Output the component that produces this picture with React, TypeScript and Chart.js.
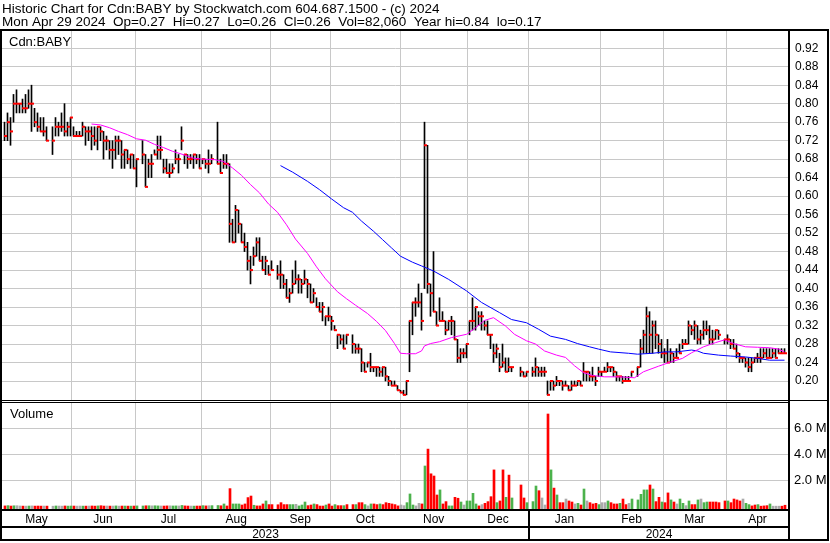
import React, { useEffect, useRef } from "react";
import { Chart, registerables } from "chart.js";
Chart.register(...registerables);

const FONT = "'Liberation Sans', Arial, Helvetica, sans-serif";

const TITLE_1 = "Historic Chart for Cdn:BABY by Stockwatch.com 604.687.1500 - (c) 2024";
const TITLE_2 = "Mon Apr 29 2024  Op=0.27  Hi=0.27  Lo=0.26  Cl=0.26  Vol=82,060  Year hi=0.84  lo=0.17";
const SYMBOL = "Cdn:BABY";
const VOLUME_LABEL = "Volume";

// x axis = weekday slots from Mon May 1 2023 (slot 0) to Mon Apr 29 2024 (slot 260)
const monthLabels = ["May", "Jun", "Jul", "Aug", "Sep", "Oct", "Nov", "Dec", "Jan", "Feb", "Mar", "Apr"];
const monthTicks = [22.17, 43.5, 65.83, 88.6, 108.5, 131.93, 154.17, 174.83, 198.5, 219.5, 240.5];
const yearLabels = ["2023", "2024"];
const priceTicks = [0.2, 0.24, 0.28, 0.32, 0.36, 0.4, 0.44, 0.48, 0.52, 0.56, 0.6, 0.64, 0.68, 0.72, 0.76, 0.8, 0.84, 0.88, 0.92];
const volumeTicks = [2e6, 4e6, 6e6];

const highs: (number | null)[] = [
  // May
  0.76, 0.78, 0.77, 0.82, 0.83, 0.80, 0.81, 0.82, 0.83, 0.84, 0.79, 0.78, 0.77, 0.77, 0.75, null, 0.75, 0.77, 0.76, 0.78, 0.80, 0.76, 0.77,
  // Jun
  0.75, 0.74, 0.74, 0.76, 0.75, 0.75, 0.75, 0.75, 0.75, 0.75, 0.74, 0.73, 0.72, 0.72, 0.73, 0.73, 0.72, 0.70, 0.70, 0.69, 0.69, 0.68,
  // Jul
  null, 0.72, 0.69, 0.68, 0.69, 0.70, 0.73, 0.73, 0.68, 0.68, 0.67, 0.67, 0.70, 0.69, 0.75, 0.69, 0.69, 0.69, 0.69, 0.69, 0.69,
  // Aug
  0.68, 0.68, 0.70, 0.69, null, 0.76, 0.68, 0.69, 0.69, 0.67, 0.55, 0.58, 0.57, 0.54, 0.52, 0.50, 0.47, 0.49, 0.51, 0.51, 0.47, 0.47, 0.45,
  // Sep
  0.46, null, 0.45, 0.46, 0.43, 0.42, 0.40, 0.44, 0.46, 0.43, 0.42, 0.44, 0.42, 0.41, 0.40, 0.38, 0.37, 0.37, 0.34, 0.36, 0.34,
  // Oct
  0.32, 0.30, 0.30, 0.30, 0.30, null, 0.30, 0.28, 0.28, 0.27, 0.24, 0.24, 0.26, 0.23, 0.23, 0.23, 0.23, 0.23, 0.21, 0.20, 0.20, 0.19,
  // Nov
  0.18, 0.18, 0.20, 0.33, 0.37, 0.38, 0.41, 0.39, 0.76, 0.71, 0.41, 0.48, 0.35, 0.38, 0.35, 0.33, 0.33, 0.34, 0.33, 0.29, 0.27, 0.27,
  // Dec
  0.28, 0.33, 0.38, 0.36, 0.35, 0.35, 0.33, 0.33, 0.30, 0.28, 0.28, 0.26, 0.28, 0.25, 0.25, 0.23, null, null, 0.23, 0.22, 0.22,
  // Jan
  null, 0.23, 0.25, 0.23, 0.23, 0.23, 0.20, 0.20, 0.20, 0.21, 0.20, 0.20, 0.20, 0.19, 0.20, 0.20, 0.20, 0.20, 0.24, 0.22, 0.22, 0.23, 0.21,
  // Feb
  0.23, 0.22, 0.23, 0.24, 0.23, 0.23, 0.22, 0.21, 0.21, 0.21, 0.21, 0.22, null, 0.23, 0.29, 0.31, 0.36, 0.35, 0.33, 0.33, 0.30,
  // Mar
  0.29, 0.27, 0.29, 0.27, 0.26, 0.27, 0.28, 0.29, 0.29, 0.33, 0.32, 0.33, 0.32, 0.31, 0.33, 0.33, 0.32, 0.31, 0.31, 0.31, null,
  // Apr
  0.29, 0.30, 0.29, 0.29, 0.28, 0.26, 0.25, 0.25, 0.25, 0.25, 0.25, 0.26, 0.27, 0.27, 0.27, 0.27, 0.27, 0.27, 0.27, 0.27, 0.27,
];

const lows: (number | null)[] = [
  0.72, 0.72, 0.71, 0.76, 0.78, 0.78, 0.78, 0.78, 0.79, 0.74, 0.75, 0.74, 0.74, 0.73, 0.72, null, 0.69, 0.73, 0.73, 0.74, 0.73, 0.73, 0.73,
  0.73, 0.73, 0.73, 0.73, 0.71, 0.72, 0.70, 0.71, 0.70, 0.72, 0.68, 0.70, 0.68, 0.66, 0.68, 0.69, 0.66, 0.66, 0.67, 0.66, 0.66, 0.62,
  null, 0.67, 0.62, 0.64, 0.64, 0.69, 0.68, 0.68, 0.65, 0.65, 0.64, 0.65, 0.67, 0.65, 0.70, 0.67, 0.66, 0.67, 0.66, 0.67, 0.66,
  0.67, 0.66, 0.65, 0.67, null, 0.67, 0.65, 0.66, 0.66, 0.50, 0.50, 0.50, 0.52, 0.50, 0.48, 0.44, 0.41, 0.45, 0.47, 0.46, 0.44, 0.43, 0.43,
  0.44, null, 0.42, 0.40, 0.40, 0.38, 0.37, 0.39, 0.41, 0.39, 0.39, 0.41, 0.38, 0.37, 0.37, 0.36, 0.35, 0.33, 0.32, 0.33, 0.31,
  0.31, 0.27, 0.28, 0.27, 0.28, null, 0.26, 0.26, 0.26, 0.22, 0.22, 0.23, 0.22, 0.22, 0.21, 0.21, 0.21, 0.20, 0.19, 0.19, 0.19, 0.18,
  0.175, 0.17, 0.17, 0.22, 0.30, 0.34, 0.36, 0.31, 0.40, 0.39, 0.34, 0.35, 0.32, 0.33, 0.33, 0.30, 0.31, 0.30, 0.29, 0.24, 0.24, 0.25,
  0.25, 0.30, 0.31, 0.31, 0.32, 0.31, 0.31, 0.30, 0.27, 0.24, 0.25, 0.22, 0.23, 0.22, 0.22, 0.22, null, null, 0.21, 0.21, 0.21,
  null, 0.21, 0.21, 0.21, 0.21, 0.21, 0.17, 0.18, 0.18, 0.19, 0.19, 0.18, 0.19, 0.18, 0.18, 0.19, 0.19, 0.19, 0.20, 0.20, 0.20, 0.20, 0.19,
  0.21, 0.21, 0.22, 0.22, 0.22, 0.21, 0.20, 0.20, 0.195, 0.20, 0.20, 0.21, null, 0.21, 0.23, 0.26, 0.26, 0.26, 0.26, 0.27, 0.26,
  0.25, 0.24, 0.24, 0.24, 0.24, 0.25, 0.26, 0.27, 0.28, 0.28, 0.30, 0.29, 0.28, 0.28, 0.29, 0.30, 0.28, 0.28, 0.29, 0.29, null,
  0.28, 0.28, 0.27, 0.27, 0.25, 0.24, 0.24, 0.23, 0.22, 0.22, 0.24, 0.24, 0.24, 0.25, 0.25, 0.25, 0.25, 0.25, 0.26, 0.26, 0.26,
];

const closes: (number | null)[] = [
  0.73, 0.76, 0.74, 0.80, 0.80, 0.80, 0.79, 0.79, 0.80, 0.80, 0.76, 0.75, 0.74, 0.74, 0.72, null, 0.72, 0.75, 0.75, 0.75, 0.74, 0.75, 0.77,
  0.73, 0.73, 0.73, 0.75, 0.74, 0.74, 0.73, 0.72, 0.75, 0.74, 0.72, 0.72, 0.70, 0.70, 0.72, 0.72, 0.69, 0.70, 0.68, 0.69, 0.66, 0.68,
  null, 0.69, 0.62, 0.67, 0.67, 0.69, 0.70, 0.70, 0.66, 0.65, 0.65, 0.66, 0.68, 0.68, 0.72, 0.69, 0.68, 0.68, 0.69, 0.68, 0.66,
  0.68, 0.67, 0.67, 0.68, null, 0.67, 0.65, 0.67, 0.67, 0.54, 0.50, 0.57, 0.54, 0.50, 0.49, 0.46, 0.44, 0.47, 0.50, 0.46, 0.44, 0.46, 0.43,
  0.44, null, 0.43, 0.43, 0.41, 0.38, 0.39, 0.41, 0.42, 0.42, 0.41, 0.42, 0.41, 0.37, 0.39, 0.36, 0.35, 0.36, 0.34, 0.34, 0.33,
  0.31, 0.30, 0.29, 0.27, 0.30, null, 0.28, 0.27, 0.27, 0.24, 0.22, 0.24, 0.23, 0.23, 0.23, 0.22, 0.23, 0.21, 0.20, 0.19, 0.19, 0.18,
  0.175, 0.17, 0.20, 0.33, 0.37, 0.37, 0.37, 0.33, 0.71, 0.41, 0.39, 0.35, 0.32, 0.33, 0.33, 0.31, 0.33, 0.33, 0.29, 0.25, 0.26, 0.26,
  0.28, 0.33, 0.33, 0.36, 0.34, 0.34, 0.32, 0.30, 0.30, 0.26, 0.27, 0.23, 0.24, 0.22, 0.23, 0.23, null, null, 0.22, 0.21, 0.22,
  null, 0.22, 0.23, 0.22, 0.22, 0.22, 0.17, 0.20, 0.19, 0.20, 0.20, 0.19, 0.19, 0.18, 0.19, 0.19, 0.20, 0.19, 0.22, 0.22, 0.21, 0.21, 0.20,
  0.22, 0.22, 0.22, 0.23, 0.23, 0.22, 0.21, 0.21, 0.20, 0.20, 0.20, 0.22, null, 0.23, 0.27, 0.30, 0.34, 0.30, 0.32, 0.30, 0.28,
  0.26, 0.26, 0.24, 0.26, 0.25, 0.25, 0.26, 0.28, 0.28, 0.32, 0.31, 0.32, 0.29, 0.30, 0.31, 0.31, 0.29, 0.29, 0.31, 0.30, null,
  0.29, 0.29, 0.28, 0.27, 0.26, 0.25, 0.25, 0.24, 0.23, 0.24, 0.25, 0.25, 0.25, 0.26, 0.25, 0.25, 0.26, 0.25, 0.26, 0.26, 0.26,
];

// volume in thousands of shares
const volumeK: (number | null)[] = [
  30, 50, 20, 40, 45, 25, 15, 15, 20, 30, 15, 20, 15, 20, 15, null, 10, 25, 20, 15, 25, 15, 20,
  20, 15, 20, 15, 15, 20, 25, 15, 30, 45, 20, 25, 15, 20, 30, 15, 20, 20, 15, 15, 20, 30,
  null, 25, 40, 40, 35, 40, 30, 25, 20, 30, 35, 25, 30, 25, 65, 30, 20, 20, 15, 20, 20,
  50, 30, 45, 50, null, 60, 40, 180, 25, 1360, 180, 180, 180, 100, 180, 670, 790, 80, 30, 30, 180, 410, 130,
  130, null, 120, 280, 130, 130, 130, 130, 150, 30, 100, 330, 50, 100, 180, 130, 20, 20, 100, 180, 20,
  130, 50, 50, 50, 130, null, 130, 130, 280, 280, 130, 30, 180, 180, 130, 180, 130, 280, 230, 180, 130, 30,
  100, 50, 280, 950, 100, 30, 230, 180, 3100, 4400, 2500, 2330, 870, 1260, 180, 360, 30, 30, 690, 620, 330, 100,
  410, 410, 1000, 180, 30, 130, 230, 360, 740, 2800, 280, 410, 2800, 690, 2400, 640, null, null, 1640, 640, 280,
  null, 360, 1560, 1200, 640, 100, 7100, 2800, 1400, 870, 280, 280, 560, 410, 330, 180, 230, 100, 1330, 410, 280, 180, 230,
  130, 280, 280, 410, 280, 180, 180, 230, 560, 130, 230, 560, null, 490, 920, 1260, 1260, 1640, 1330, 360, 690,
  330, 280, 1030, 490, 330, 180, 560, 230, 50, 410, 130, 130, 490, 560, 280, 330, 330, 330, 330, 280, null,
  410, 410, 280, 560, 490, 410, 560, 230, 130, 30, 100, 130, 10, 30, 50, 180, 10, 10, 10, 10, 82,
];

// volume bar colour per slot: r = down, g = up, n = unchanged, _ = no trading
const volumeDir = (
  "rgrgnnrngnrrrnr_ngnnrgg" +
  "rnngrnrrgrrnrngnrgrgrg" +
  "_grgnggnrrnggngrrngrr" +
  "grng_grgrrgggrrrrgrrrgr" +
  "r_rrrrggngggrrgrrrgrr" +
  "grrgr_rgrrgngrrgrrrrrr" +
  "nngggnnrgrrrrgrrggrrgn" +
  "ggggrnrrrrgrrgrg__rrg" +
  "_ggrnnrgrgrrnrrngrgnrrr" +
  "gnngrrrgrrng_ggggrgrr" +
  "grrgrnggngrrgnggrrrr_" +
  "rgrrrrnggrrgrrrgnnnrr"
).split("");

// moving averages (slot, value)
const maShortX = [29, 32, 35, 38, 41, 44, 47, 50, 53, 56, 60, 63, 66, 70, 73, 76, 79, 82, 85, 88, 91, 94, 97, 101, 104, 107, 111, 114, 117, 121, 124, 127, 130, 132, 134, 137, 139, 140, 142, 145, 149, 154, 157, 160, 163, 167, 170, 174, 177, 180, 184, 187, 190, 193, 196, 200, 205, 210, 213, 218, 222, 226, 229, 233, 237, 240, 243, 247, 251, 255, 258, 260];
const maShortY = [0.756, 0.754, 0.748, 0.74, 0.733, 0.724, 0.721, 0.712, 0.705, 0.697, 0.689, 0.682, 0.68, 0.679, 0.675, 0.661, 0.645, 0.625, 0.607, 0.583, 0.565, 0.538, 0.507, 0.476, 0.447, 0.421, 0.393, 0.378, 0.364, 0.346, 0.329, 0.309, 0.281, 0.26, 0.259, 0.259, 0.265, 0.276, 0.281, 0.285, 0.294, 0.301, 0.315, 0.331, 0.337, 0.319, 0.301, 0.287, 0.28, 0.265, 0.256, 0.251, 0.233, 0.218, 0.212, 0.209, 0.209, 0.207, 0.22, 0.232, 0.241, 0.249, 0.261, 0.274, 0.283, 0.289, 0.281, 0.274, 0.273, 0.272, 0.269, 0.263];
const maLongX = [92, 96, 101, 105, 109, 113, 116, 119, 123, 126, 129, 132, 136, 139, 143, 148, 154, 159, 165, 169, 174, 178, 182, 187, 191, 195, 198, 202, 208, 211, 216, 220, 224, 229, 231, 233, 238, 242, 247, 251, 255, 260];
const maLongY = [0.666, 0.652, 0.632, 0.614, 0.594, 0.575, 0.565, 0.546, 0.524, 0.506, 0.488, 0.47, 0.457, 0.449, 0.438, 0.42, 0.395, 0.37, 0.348, 0.333, 0.326, 0.312, 0.297, 0.29, 0.281, 0.274, 0.269, 0.263, 0.26, 0.258, 0.26, 0.263, 0.263, 0.267, 0.265, 0.26, 0.256, 0.254, 0.252, 0.249, 0.245, 0.245];

// scale ranges
const X_MIN = -5 / 6;
const X_MAX = 261.5;
const PRICE_MAX = 0.2 + 350 / 462.2;
const PRICE_MIN = 0.2 - 19 / 462.2;
const VOL_MAX = ((506.3 - 403) / 13) * 1e6;
const VOL_MIN = (-(509 - 506.3) / 13) * 1e6;

const GRID = "#c8c8c8";
const DIR_COLORS: Record<string, string> = { r: "#ff0000", g: "#4cb24c", n: "#aaaaaa", _: "#ffffff" };

function zeroPad(s: any) {
  s.paddingTop = 0;
  s.paddingBottom = 0;
  s.paddingLeft = 0;
  s.paddingRight = 0;
}

function xScale() {
  return {
    type: "linear" as const,
    min: X_MIN,
    max: X_MAX,
    offset: false,
    display: true,
    ticks: { display: false },
    grid: { color: GRID, lineWidth: 1, drawTicks: false, offset: false },
    border: { display: false },
    afterBuildTicks: (s: any) => {
      s.ticks = monthTicks.map((v) => ({ value: v }));
    },
    afterFit: (s: any) => {
      s.height = 0;
      zeroPad(s);
    },
  };
}

const whiteBg = {
  id: "whiteBg",
  beforeDraw(chart: any) {
    const { ctx, width, height } = chart;
    ctx.save();
    ctx.fillStyle = "#ffffff";
    ctx.fillRect(0, 0, width, height);
    ctx.restore();
  },
};

const priceFrame = {
  id: "priceFrame",
  afterDraw(chart: any) {
    const ctx = chart.ctx;
    ctx.save();
    ctx.fillStyle = "#000";
    ctx.fillRect(0, 29, 829, 2);
    ctx.fillRect(0, 29, 2, 371);
    ctx.fillRect(788, 29, 2, 371);
    ctx.fillRect(827, 29, 2, 371);
    ctx.textAlign = "left";
    ctx.textBaseline = "alphabetic";
    ctx.font = `13.5px ${FONT}`;
    ctx.fillText(TITLE_1, 2, 13);
    ctx.fillText(TITLE_2, 2, 26);
    ctx.font = `13px ${FONT}`;
    ctx.fillText(SYMBOL, 9, 46);
    ctx.restore();
  },
};

const volumeFrame = {
  id: "volumeFrame",
  afterDraw(chart: any) {
    const ctx = chart.ctx;
    const xs = chart.scales.x;
    ctx.save();
    ctx.fillStyle = "#000";
    ctx.fillRect(0, 0, 829, 1);
    ctx.fillRect(0, 2, 789, 1);
    ctx.fillRect(0, 0, 2, 141);
    ctx.fillRect(788, 0, 2, 141);
    ctx.fillRect(827, 0, 2, 141);
    ctx.fillRect(0, 109, 789, 2);
    ctx.fillRect(0, 126, 789, 2);
    ctx.fillRect(0, 139, 829, 2);
    const janX = Math.round(xs.getPixelForValue(monthTicks[7]));
    ctx.fillRect(janX - 1, 111, 2, 28);

    ctx.textBaseline = "alphabetic";
    ctx.textAlign = "left";
    ctx.font = `13px ${FONT}`;
    ctx.fillText(VOLUME_LABEL, 10, 17.5);

    ctx.font = `12px ${FONT}`;
    ctx.textAlign = "center";
    const bounds = [X_MIN, ...monthTicks, X_MAX].map((v) => xs.getPixelForValue(v));
    monthLabels.forEach((m, i) => {
      ctx.fillText(m, (bounds[i] + bounds[i + 1]) / 2, 123);
    });
    const yb = [X_MIN, monthTicks[7], X_MAX].map((v) => xs.getPixelForValue(v));
    yearLabels.forEach((y, i) => {
      ctx.fillText(y, (yb[i] + yb[i + 1]) / 2, 138);
    });
    ctx.restore();
  },
};

function yScale(min: number, max: number, ticks: number[], size: number, pad: number, fmt: (v: number) => string) {
  return {
    type: "linear",
    position: "right",
    min,
    max,
    grid: { color: GRID, lineWidth: 1, drawTicks: false, tickLength: 0 },
    border: { display: false },
    ticks: {
      autoSkip: false,
      padding: pad,
      color: "#000",
      font: { family: FONT, size },
      callback: (v: any) => fmt(Number(v)),
    },
    afterBuildTicks: (s: any) => {
      s.ticks = ticks.map((v) => ({ value: v }));
    },
    afterFit: (s: any) => {
      s.width = 41;
      zeroPad(s);
    },
  } as any;
}

export default function App() {
  const priceRef = useRef<HTMLCanvasElement>(null);
  const volRef = useRef<HTMLCanvasElement>(null);

  useEffect(() => {
    document.body.style.margin = "0";
    const slots = highs.map((_, i) => i);

    const hiLo = slots
      .filter((i) => highs[i] != null)
      .map((i) => ({ x: i, y: [lows[i] as number, highs[i] as number] }));
    const closeMarks = slots
      .filter((i) => closes[i] != null)
      .map((i) => ({ x: i + 1 / 3, y: closes[i] as number }));
    const volSlots = slots.filter((i) => volumeK[i] != null);
    const volData = volSlots.map((i) => ({ x: i + 1 / 6, y: (volumeK[i] as number) * 1000 }));
    const volColors = volSlots.map((i) => DIR_COLORS[volumeDir[i]] || "#aaaaaa");

    const common = {
      responsive: false,
      animation: false as const,
      devicePixelRatio: 1,
      events: [] as any[],
      plugins: { legend: { display: false }, tooltip: { enabled: false } },
    };

    const priceChart = new Chart(priceRef.current as HTMLCanvasElement, {
      type: "bar",
      data: {
        datasets: [
          {
            type: "line",
            data: maShortX.map((x, i) => ({ x, y: maShortY[i] })),
            borderColor: "#ff00ff",
            borderWidth: 1,
            pointRadius: 0,
            fill: false,
            tension: 0,
            order: 0,
          } as any,
          {
            type: "line",
            data: maLongX.map((x, i) => ({ x, y: maLongY[i] })),
            borderColor: "#0000ff",
            borderWidth: 1,
            pointRadius: 0,
            fill: false,
            tension: 0,
            order: 1,
          } as any,
          {
            type: "scatter",
            data: closeMarks,
            pointStyle: "line",
            pointRadius: 1.5,
            pointBorderWidth: 2,
            pointBorderColor: "#ff0000",
            pointBackgroundColor: "#ff0000",
            order: 2,
          } as any,
          {
            type: "bar",
            data: hiLo,
            backgroundColor: "#000000",
            barThickness: 1,
            grouped: false,
            order: 3,
          } as any,
        ],
      },
      options: {
        ...common,
        layout: { autoPadding: false, padding: { top: 31, left: 2, right: 0, bottom: 0 } },
        scales: {
          x: xScale() as any,
          y: yScale(PRICE_MIN, PRICE_MAX, priceTicks, 12, 6, (v) => v.toFixed(2)),
        },
      } as any,
      plugins: [whiteBg, priceFrame],
    });

    const volChart = new Chart(volRef.current as HTMLCanvasElement, {
      type: "bar",
      data: {
        datasets: [
          {
            type: "bar",
            data: volData,
            backgroundColor: volColors,
            barThickness: 2,
            grouped: false,
            base: VOL_MIN,
          } as any,
        ],
      },
      options: {
        ...common,
        layout: { autoPadding: false, padding: { top: 3, left: 2, right: 0, bottom: 34 } },
        scales: {
          x: xScale() as any,
          y: yScale(VOL_MIN, VOL_MAX, volumeTicks, 13, 5, (v) => `${(v / 1e6).toFixed(1)} M`),
        },
      } as any,
      plugins: [whiteBg, volumeFrame],
    });

    return () => {
      priceChart.destroy();
      volChart.destroy();
    };
  }, []);

  return (
    <div style={{ position: "relative", width: 830, height: 543, background: "#fff", overflow: "hidden" }}>
      <canvas ref={priceRef} width={830} height={400} style={{ position: "absolute", left: 0, top: 0 }} />
      <canvas ref={volRef} width={830} height={143} style={{ position: "absolute", left: 0, top: 400 }} />
    </div>
  );
}
